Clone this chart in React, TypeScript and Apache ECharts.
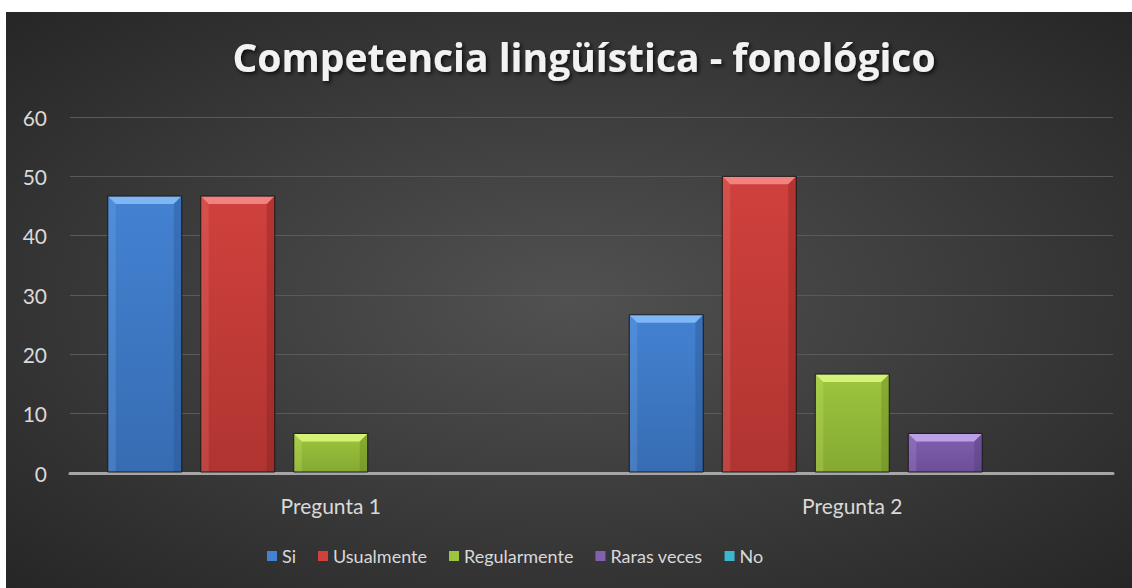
import React, { useEffect, useRef } from "react";
import * as echarts from "echarts";

const categories = ["Pregunta 1", "Pregunta 2"];
const seriesNames = ["Si", "Usualmente", "Regularmente", "Raras veces", "No"];
const siValues = [46.67, 26.67];
const usualmenteValues = [46.67, 50];
const regularmenteValues = [6.67, 16.67];
const rarasValues = [0, 6.67];
const noValues = [0, 0];
const yTicks = { min: 0, max: 60, interval: 10 };

const seriesValues = [siValues, usualmenteValues, regularmenteValues, rarasValues, noValues];
const baseColors = ["#4382D2", "#D0413D", "#9DC63E", "#8260B0", "#3BB5D0"];
const bottomColors = ["#376CB2", "#B03431", "#85A932", "#6B4F96", "#2F98B0"];
const lightColors = ["#86BDF8", "#F58A86", "#DDF67E", "#C3A6EE", "#8AE6F5"];
const darkColors = ["#24508A", "#7E1F1C", "#607D1C", "#4E3874", "#1F7088"];

function makeSeries(idx: number) {
  const data = seriesValues[idx].map((v, i) => [i, v]);
  return {
    type: "custom",
    name: seriesNames[idx],
    itemStyle: { color: baseColors[idx] },
    encode: { x: 0, y: 1 },
    data,
    renderItem: (params: any, api: any) => {
      const val = api.value(1);
      if (!val) return null;
      const cat = api.value(0);
      const top = api.coord([cat, val]);
      const base = api.coord([cat, 0]);
      const band = api.size([1, 0])[0];
      const barW = band * (74 / 521.5);
      const gap = band * (19 / 521.5);
      const cx = top[0] + (idx - 2) * (barW + gap);
      const x0 = cx - barW / 2;
      const x1 = cx + barW / 2;
      const y0 = top[1];
      const y1 = base[1] - 1;
      const b = Math.min(8, (y1 - y0) / 2);
      return {
        type: "group",
        children: [
          {
            type: "rect",
            shape: { x: x0, y: y0, width: x1 - x0, height: y1 - y0 },
            style: {
              fill: new echarts.graphic.LinearGradient(0, 0, 0, 1, [
                { offset: 0, color: baseColors[idx] },
                { offset: 1, color: bottomColors[idx] },
              ]),
            },
          },
          {
            type: "polygon",
            shape: { points: [[x0, y0], [x1, y0], [x1 - b, y0 + b], [x0 + b, y0 + b]] },
            style: { fill: lightColors[idx], opacity: 0.9 },
          },
          {
            type: "polygon",
            shape: { points: [[x0, y0], [x0 + b, y0 + b], [x0 + b, y1], [x0, y1]] },
            style: { fill: lightColors[idx], opacity: 0.2 },
          },
          {
            type: "polygon",
            shape: { points: [[x1, y0], [x1 - b, y0 + b], [x1 - b, y1], [x1, y1]] },
            style: { fill: darkColors[idx], opacity: 0.35 },
          },
          {
            type: "rect",
            shape: { x: x0, y: y0, width: x1 - x0, height: y1 - y0 },
            style: { fill: "none", stroke: "#181818", lineWidth: 1 },
          },
        ],
      };
    },
  };
}

export default function App() {
  const ref = useRef<HTMLDivElement>(null);
  useEffect(() => {
    if (!ref.current) return;
    const chart = echarts.init(ref.current, null, { renderer: "svg" });
    chart.setOption({
      animation: false,
      backgroundColor: "transparent",
      title: {
        text: "Competencia lingüística - fonológico",
        left: 579 - 6,
        textAlign: "center",
        top: 20,
        textStyle: {
          fontFamily: "Open Sans",
          fontWeight: "bold",
          fontSize: 39,
          color: "#F2F2F2",
          textShadowColor: "rgba(0,0,0,0.75)",
          textShadowBlur: 4,
          textShadowOffsetX: 2,
          textShadowOffsetY: 2,
        },
      },
      legend: {
        left: 256,
        top: 530,
        icon: "rect",
        itemWidth: 10,
        itemHeight: 10,
        itemGap: 22,
        textStyle: { color: "#D9D9D9", fontFamily: "Lato", fontSize: 18 },
        data: seriesNames,
      },
      grid: { left: 64, right: 19, top: 105, bottom: 115, containLabel: false },
      xAxis: {
        type: "category",
        data: categories,
        axisLine: { show: true, lineStyle: { color: "#A6A6A6", width: 3 } },
        axisTick: { show: false },
        axisLabel: { color: "#D9D9D9", fontFamily: "Lato", fontSize: 21, margin: 22 },
      },
      yAxis: {
        type: "value",
        min: yTicks.min,
        max: yTicks.max,
        interval: yTicks.interval,
        axisLine: { show: false },
        axisTick: { show: false },
        axisLabel: { color: "#D9D9D9", fontFamily: "Lato", fontSize: 21, margin: 23 },
        splitLine: { lineStyle: { color: "#5A5A5A", width: 1 } },
      },
      series: seriesNames.map((_, i) => makeSeries(i)),
    });
    return () => chart.dispose();
  }, []);
  return (
    <div style={{ position: "absolute", left: 0, top: 0, width: 1132, height: 588, background: "#fff" }}>
      <div
        style={{
          position: "absolute",
          left: 6,
          top: 12,
          width: 1126,
          height: 576,
          background: "radial-gradient(ellipse at 50% 50%, #515151 0%, #3e3e3e 45%, #262626 100%)",
        }}
      >
        <div ref={ref} style={{ width: 1126, height: 576 }} />
      </div>
    </div>
  );
}
